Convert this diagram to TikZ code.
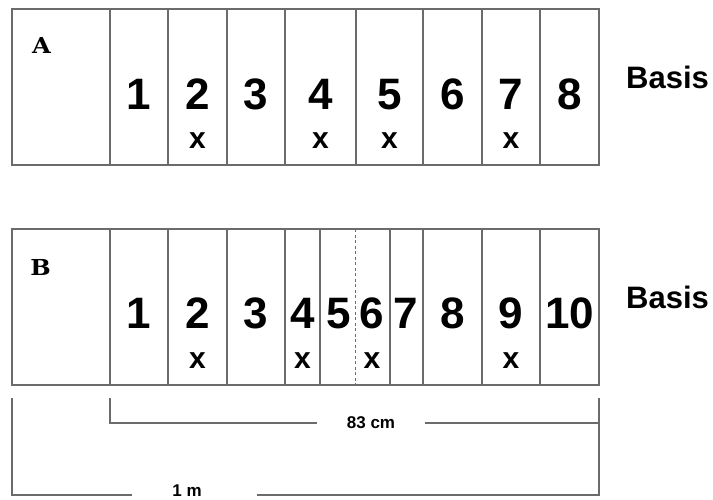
\documentclass[tikz,border=0pt]{standalone}
\usepackage{fontspec}
\setmainfont{Liberation Sans}
\newfontfamily\labfont{DejaVu Serif}
\begin{document}
\begin{tikzpicture}[x=1pt,y=-1pt,
  box/.style={draw=black!58,line width=1.4pt},
  divider/.style={draw=black!58,line width=1.4pt},
  dashdiv/.style={draw=black!58,line width=1pt,dash pattern=on 3pt off 2.5pt},
  dim/.style={draw=black!58,line width=1.6pt},
  num/.style={font=\fontsize{44}{44}\selectfont\bfseries,anchor=base,inner sep=0pt},
  xmark/.style={font=\fontsize{30}{30}\selectfont\bfseries,anchor=base,inner sep=0pt},
  basis/.style={font=\fontsize{31}{31}\selectfont\bfseries,anchor=base west,inner sep=0pt},
  rowlab/.style={anchor=base,inner sep=0pt,xscale=1.1},
  dimtext/.style={font=\fontsize{17}{17}\selectfont\bfseries,anchor=base,inner sep=0pt}]
\useasboundingbox (0,0) rectangle (713,499);
\fill[white] (0,0) rectangle (713,499);
% Row A
\draw[box] (12,9) rectangle (599,165);
\foreach \xx in {110,168,227,285,356,423,482,540}
  \draw[divider] (\xx,9) -- (\xx,165);
\node[rowlab] (labA) at (41.5,53) {\labfont\fontsize{22}{22}\selectfont\bfseries A};
\foreach \n/\xx in {1/139,2/197.5,3/256,4/320.5,5/389.5,6/452.5,7/511,8/569.5}
  \node[num] (a\n) at (\xx,109) {\n};
\foreach \n/\xx in {2/197.5,4/320.5,5/389.5,7/511}
  \node[xmark] (ax\n) at (\xx,148) {x};
\node[basis] (basisA) at (626,88) {Basis};
% Row B
\draw[box] (12,229) rectangle (599,385);
\foreach \xx in {110,168,227,285,320,390,423,482,540}
  \draw[divider] (\xx,229) -- (\xx,385);
\draw[dashdiv] (355,229) -- (355,385);
\node[rowlab] (labB) at (40.5,275) {\labfont\fontsize{22}{22}\selectfont\bfseries B};
\foreach \n/\xx in {1/139,2/197.5,3/256,4/302.5,5/339,6/372,7/406,8/452.5,9/511,10/569.5}
  \node[num] (b\n) at (\xx,328) {\n};
\foreach \n/\xx in {2/197.5,4/302.5,6/372,9/511}
  \node[xmark] (bx\n) at (\xx,368) {x};
\node[basis] (basisB) at (626,308) {Basis};
% Dimension lines
\coordinate (o1) at (12,398);
\coordinate (o2) at (12,495);
\coordinate (o3) at (599,495);
\coordinate (o4) at (599,398);
\coordinate (i1) at (110,398);
\coordinate (i2) at (110,423);
\coordinate (i3) at (599,423);
\node[dimtext] (cm) at (371,428.5) {83 cm};
\node[dimtext] (m) at (187,496.5) {1 m};
\coordinate (cmL) at (317,423);
\coordinate (cmR) at (425,423);
\coordinate (mL) at (132,495);
\coordinate (mR) at (257,495);
\draw[dim] (i1) -- (i2) -- (cmL);
\draw[dim] (cmR) -- (i3);
\draw[dim] (o1) -- (o2) -- (mL);
\draw[dim] (mR) -- (o3) -- (o4);
\end{tikzpicture}
\end{document}
